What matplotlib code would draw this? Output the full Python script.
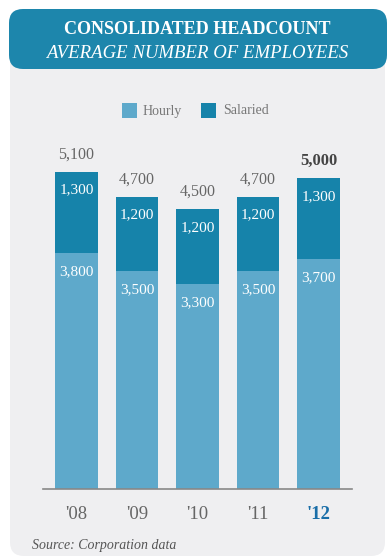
import matplotlib.pyplot as plt
from matplotlib.patches import FancyBboxPatch

years = ["'08", "'09", "'10", "'11", "'12"]
hourly = [3800, 3500, 3300, 3500, 3700]
salaried = [1300, 1200, 1200, 1200, 1300]
totals = [5100, 4700, 4500, 4700, 5000]

hourly_color = '#5ea9cb'
salaried_color = '#1683aa'
header_color = '#1d86ac'
panel_color = '#efeff1'

plt.rcParams['font.family'] = ['Liberation Serif', 'DejaVu Serif']

fig = plt.figure(figsize=(3.89, 5.6), dpi=100)

# background layer in pixel coordinates
bg = fig.add_axes([0, 0, 1, 1])
bg.set_xlim(0, 389)
bg.set_ylim(560, 0)
bg.axis('off')
bg.add_patch(FancyBboxPatch((10, 50), 375, 506, boxstyle='round,pad=0,rounding_size=14',
                            fc=panel_color, ec='none'))
bg.add_patch(FancyBboxPatch((9, 9), 378, 60, boxstyle='round,pad=0,rounding_size=14',
                            fc=header_color, ec='none'))
bg.text(197, 30, 'CONSOLIDATED HEADCOUNT', color='white', fontsize=13,
        fontweight='bold', ha='center', va='center')
bg.text(197, 53, 'AVERAGE NUMBER OF EMPLOYEES', color='white', fontsize=13.5,
        style='italic', ha='center', va='center')

# legend
bg.add_patch(plt.Rectangle((122, 103), 15, 15, fc=hourly_color, ec='none'))
bg.text(143, 111, 'Hourly', color='#777777', fontsize=10, va='center')
bg.add_patch(plt.Rectangle((201, 103), 15, 15, fc=salaried_color, ec='none'))
bg.text(223, 111, 'Salaried', color='#777777', fontsize=10, va='center')

bg.text(32, 546, 'Source: Corporation data', color='#555555', fontsize=10,
        style='italic', va='center')

# chart
ax = fig.add_axes([43 / 389, 71 / 560, 309 / 389, 373 / 560])
ax.patch.set_alpha(0)
x = range(len(years))
ax.bar(x, hourly, width=0.7, color=hourly_color, edgecolor='none')
ax.bar(x, salaried, width=0.7, bottom=hourly, color=salaried_color, edgecolor='none')
ax.set_xlim(-0.554, 4.554)
ax.set_ylim(0, 6000)

for i in x:
    last = i == len(years) - 1
    ax.text(i, totals[i] + 150, f'{totals[i]:,}', ha='center', va='bottom',
            fontsize=12 if last else 11.5, color='#444444' if last else '#666666',
            fontweight='bold' if last else 'normal')
    ax.text(i, totals[i] - 290, f'{salaried[i]:,}', ha='center', va='center',
            fontsize=11, color='white')
    ax.text(i, hourly[i] - 300, f'{hourly[i]:,}', ha='center', va='center',
            fontsize=11, color='white')

for s in ['top', 'right', 'left']:
    ax.spines[s].set_visible(False)
ax.spines['bottom'].set_color('#888888')
ax.spines['bottom'].set_linewidth(1.2)
ax.set_yticks([])
ax.set_xticks(list(x))
ax.set_xticklabels(years, fontsize=13.5, color='#666666')
ax.tick_params(axis='x', length=0, pad=12)
lbl = ax.get_xticklabels()[-1]
lbl.set_fontweight('bold')
lbl.set_color('#1a6ea8')

fig.savefig('out.png', dpi=100, facecolor='white')
